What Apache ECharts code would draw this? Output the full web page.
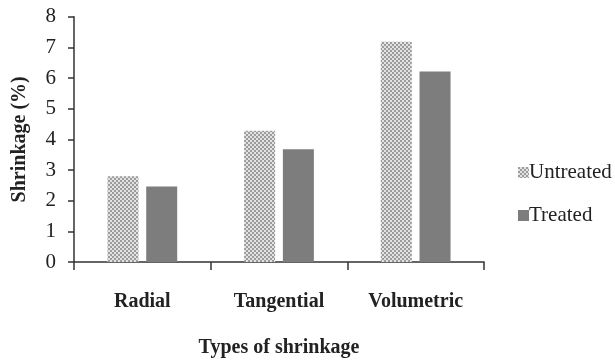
<!DOCTYPE html>
<html>
<head>
<meta charset="utf-8">
<script src="https://cdn.jsdelivr.net/npm/echarts@6/dist/echarts.min.js"></script>
<style>html,body{margin:0;padding:0;background:#fff;}#c{width:615px;height:364px;}</style>
</head>
<body>
<div id="c"></div>
<script>
var categories = ['Radial', 'Tangential', 'Volumetric'];
var untreated = [2.80, 4.28, 7.18];
var treated = [2.46, 3.68, 6.21];
var seriesNames = ['Untreated', 'Treated'];
var yTicks = [0, 1, 2, 3, 4, 5, 6, 7, 8];

function makePattern() {
  var cv = document.createElement('canvas');
  cv.width = 4; cv.height = 4;
  var ctx = cv.getContext('2d');
  ctx.fillStyle = '#e2e2e2';
  ctx.fillRect(0, 0, 4, 4);
  ctx.fillStyle = '#9c9c9c';
  ctx.fillRect(0, 0, 2, 2);
  ctx.fillRect(2, 2, 2, 2);
  return cv;
}
var pat = { image: makePattern(), repeat: 'repeat' };

var font = 'Liberation Serif';
var txt = '#222';
var chart = echarts.init(document.getElementById('c'), null, { renderer: 'canvas' });
chart.setOption({
  animation: false,
  backgroundColor: '#fff',
  grid: { left: 74, right: 131, top: 16.7, bottom: 102 },
  legend: {
    orient: 'vertical',
    left: 513,
    top: 157,
    itemWidth: 11,
    itemHeight: 11,
    itemGap: 22,
    icon: 'rect',
    data: seriesNames,
    textStyle: { fontFamily: font, fontSize: 21, color: txt, padding: [0, 0, 0, -5] }
  },
  xAxis: {
    type: 'category',
    data: categories,
    name: 'Types of shrinkage',
    nameLocation: 'middle',
    nameGap: 76,
    nameTextStyle: { fontFamily: font, fontSize: 20, fontWeight: 'bold', color: txt },
    axisLine: { lineStyle: { color: '#333', width: 1.5 } },
    axisTick: { show: true, length: 8, lineStyle: { color: '#333', width: 1.5 } },
    axisLabel: { fontFamily: font, fontSize: 20, fontWeight: 'bold', color: txt, margin: 30 },
    splitLine: { show: false }
  },
  yAxis: {
    type: 'value',
    min: yTicks[0],
    max: yTicks[yTicks.length - 1],
    interval: 1,
    name: 'Shrinkage (%)',
    nameLocation: 'middle',
    nameRotate: 90,
    nameGap: 44,
    nameTextStyle: { fontFamily: font, fontSize: 20, fontWeight: 'bold', color: txt },
    axisLine: { show: true, lineStyle: { color: '#333', width: 1.5 } },
    axisTick: { show: true, length: 6, lineStyle: { color: '#333', width: 1.5 } },
    axisLabel: { fontFamily: font, fontSize: 21, color: txt, margin: 18 },
    splitLine: { show: false }
  },
  series: [
    {
      name: seriesNames[0],
      type: 'bar',
      data: untreated,
      barWidth: 31,
      barGap: '25%',
      itemStyle: { color: pat }
    },
    {
      name: seriesNames[1],
      type: 'bar',
      data: treated,
      barWidth: 31,
      barGap: '25%',
      itemStyle: { color: '#7d7d7d' }
    }
  ]
});
</script>
</body>
</html>
